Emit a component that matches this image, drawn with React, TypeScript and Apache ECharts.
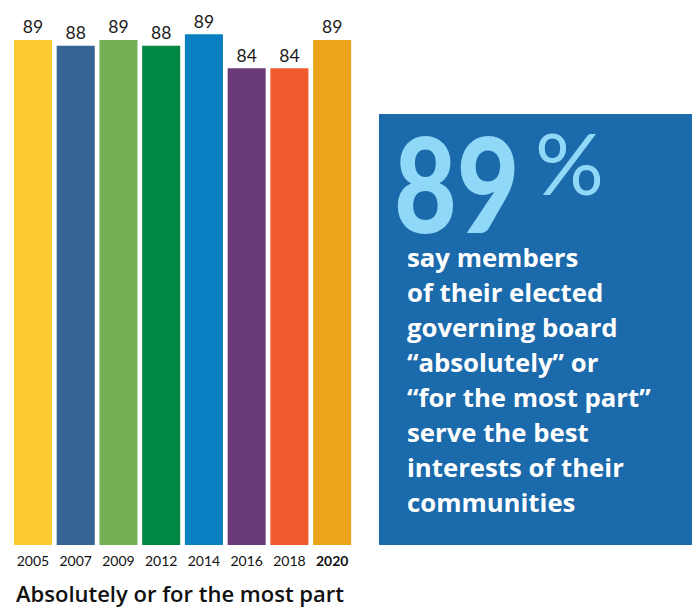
import React, { useEffect, useRef } from "react";
import * as echarts from "echarts";

const years = ["2005", "2007", "2009", "2012", "2014", "2016", "2018", "2020"];
// bar heights as drawn
const values = [89, 88, 89, 88, 90, 84, 84, 89];
// printed labels above bars
const valueLabels = ["89", "88", "89", "88", "89", "84", "84", "89"];
const barColors = ["#fdca31", "#346594", "#74b055", "#008744", "#0880c1", "#6a3a78", "#f05a2c", "#eba41c"];
const chartTitle = "Absolutely or for the most part";
const bigNumber = "89";
const bigUnit = "%";
const calloutLines = [
  "say members",
  "of their elected",
  "governing board",
  "\u201cabsolutely\u201d or",
  "\u201cfor the most part\u201d",
  "serve the best",
  "interests of their",
  "communities",
];

export default function App() {
  const ref = useRef<HTMLDivElement>(null);
  useEffect(() => {
    document.body.style.margin = "0";
    const chart = echarts.init(ref.current!, null, { renderer: "svg" });
    const font = "Lato";
    const wide = "Open Sans";
    chart.setOption({
      animation: false,
      backgroundColor: "#ffffff",
      grid: { left: 11.6, width: 341.9, top: 34.3, height: 510.7 },
      xAxis: {
        type: "category",
        data: years,
        axisLine: { show: false },
        axisTick: { show: false },
        axisLabel: {
          margin: 8,
          fontFamily: font,
          fontSize: 14,
          color: "#111111",
          interval: 0,
          formatter: (v: string) => (v === "2020" ? "{b|" + v + "}" : v),
          rich: {
            b: { fontFamily: font, fontSize: 14, fontWeight: "bold", color: "#111111" },
          },
        },
      },
      yAxis: { type: "value", min: 0, max: 90, show: false, splitLine: { show: false } },
      series: [
        {
          type: "bar",
          barCategoryGap: "11%",
          data: values.map((v, i) => ({ value: v, itemStyle: { color: barColors[i] } })),
          label: {
            show: true,
            position: "top",
            distance: 4,
            fontFamily: font,
            fontSize: 17.5,
            color: "#1a1a1a",
            formatter: (p: any) => valueLabels[p.dataIndex],
          },
        },
      ],
      graphic: [
        {
          type: "text",
          x: 16,
          y: 593,
          style: {
            text: chartTitle,
            fontFamily: wide,
            fontSize: 22,
            fontWeight: 600,
            fill: "#111111",
            verticalAlign: "middle",
          },
        },
        {
          type: "rect",
          shape: { x: 379, y: 114, width: 313, height: 431 },
          style: { fill: "#1b6aab" },
        },
        {
          type: "text",
          x: 394,
          y: 182,
          scaleX: 0.82,
          style: {
            text: bigNumber,
            fontFamily: font,
            fontSize: 132,
            fontWeight: 900,
            fill: "#90d8f7",
            verticalAlign: "middle",
          },
        },
        {
          type: "text",
          x: 535,
          y: 161,
          style: {
            text: bigUnit,
            fontFamily: font,
            fontSize: 86,
            fontWeight: "normal",
            fill: "#90d8f7",
            verticalAlign: "middle",
          },
        },
        {
          type: "text",
          x: 407,
          y: 240,
          scaleX: 1.03,
          style: {
            text: calloutLines.join("\n"),
            fontFamily: wide,
            fontSize: 25,
            fontWeight: "bold",
            lineHeight: 35,
            fill: "#ffffff",
            verticalAlign: "top",
          },
        },
      ],
    });
    return () => chart.dispose();
  }, []);
  return <div ref={ref} style={{ width: 698, height: 607 }} />;
}
